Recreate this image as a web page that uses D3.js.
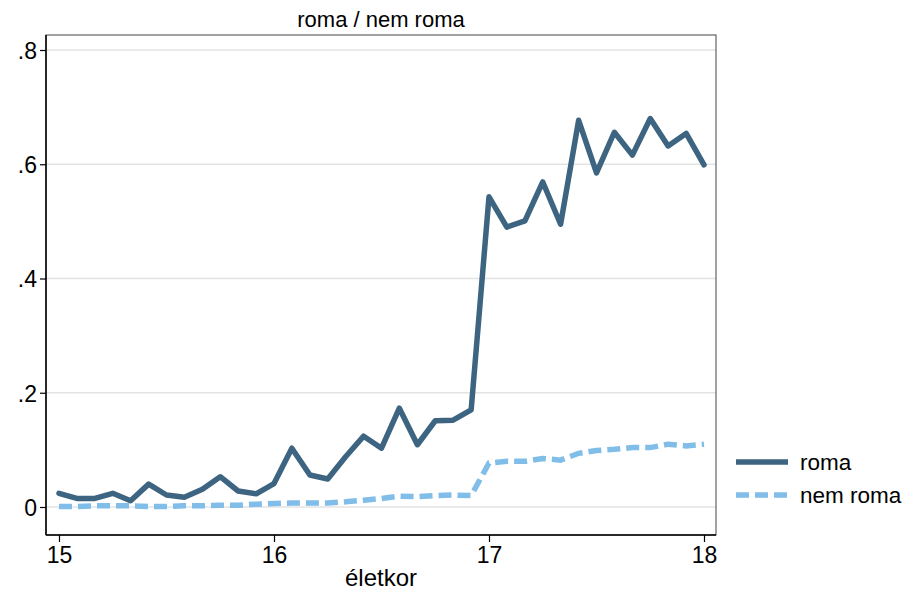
<!DOCTYPE html>
<html><head><meta charset="utf-8">
<script src="https://cdn.jsdelivr.net/npm/d3@7"></script>
<style>body{margin:0;background:#fff}svg{display:block;font-family:"Liberation Sans",Arial,sans-serif}</style>
</head><body><svg id="c" width="908" height="593"></svg>
<script>
const ages = [15,15.083,15.167,15.25,15.333,15.417,15.5,15.583,15.667,15.75,15.833,15.917,
  16,16.083,16.167,16.25,16.333,16.417,16.5,16.583,16.667,16.75,16.833,16.917,
  17,17.083,17.167,17.25,17.333,17.417,17.5,17.583,17.667,17.75,17.833,17.917,18];
const roma = [0.024,0.015,0.015,0.024,0.011,0.040,0.021,0.017,0.031,0.053,0.028,0.023,
  0.041,0.103,0.056,0.049,0.088,0.124,0.103,0.173,0.109,0.151,0.152,0.170,
  0.543,0.490,0.501,0.569,0.495,0.677,0.585,0.656,0.616,0.680,0.632,0.654,0.599];
const nemRoma = [0.001,0.001,0.002,0.002,0.002,0.001,0.001,0.002,0.002,0.003,0.003,0.005,
  0.006,0.007,0.007,0.007,0.009,0.012,0.015,0.019,0.018,0.020,0.021,0.020,
  0.077,0.080,0.080,0.085,0.082,0.094,0.099,0.101,0.104,0.104,0.110,0.107,0.110];
const xTicks = [15,16,17,18];
const yTicks = [0,0.2,0.4,0.6,0.8];
const yTickLabels = ["0",".2",".4",".6",".8"];
const seriesNames = ["roma","nem roma"];

const svg = d3.select("#c");
const L=46,R=716,T=35,B=535;
const x = d3.scaleLinear().domain([15,18]).range([59,704]);
const y = d3.scaleLinear().domain([0,0.8]).range([507,50]);

// grid
svg.append("g").selectAll("line").data(yTicks).join("line")
  .attr("x1",L).attr("x2",R).attr("y1",d=>y(d)).attr("y2",d=>y(d))
  .attr("stroke","#e3e3e3").attr("stroke-width",1.5);

// frame
svg.append("rect").attr("x",L).attr("y",T).attr("width",R-L).attr("height",B-T)
  .attr("fill","none").attr("stroke","#444").attr("stroke-width",1);

const line = d3.line().x((d,i)=>x(ages[i])).y(d=>y(d));
svg.append("path").datum(nemRoma).attr("d",line).attr("fill","none")
  .attr("stroke","#80bde8").attr("stroke-width",5.5).attr("stroke-dasharray","13,6");
svg.append("path").datum(roma).attr("d",line).attr("fill","none")
  .attr("stroke","#3d6480").attr("stroke-width",5.5).attr("stroke-linejoin","round").attr("stroke-linecap","round");

// axes
const ax = svg.append("g").attr("transform",`translate(0,${B})`)
  .call(d3.axisBottom(x).tickValues(xTicks).tickFormat(d3.format("d")).tickSize(7).tickPadding(4));
const ay = svg.append("g").attr("transform",`translate(${L},0)`)
  .call(d3.axisLeft(y).tickValues(yTicks).tickFormat((d,i)=>yTickLabels[i]).tickSize(6).tickPadding(3));
[ax,ay].forEach(a=>{
  a.select(".domain").remove();
  a.selectAll(".tick line").attr("stroke","#000").attr("stroke-width",1.2);
  a.selectAll("text").attr("font-size",23).attr("fill","#000").attr("font-family","Liberation Sans, Arial, sans-serif");
});
ax.selectAll("text").attr("dy","0.75em");
ay.selectAll("text").attr("dy","0.36em");
svg.append("line").attr("x1",L).attr("x2",L).attr("y1",T).attr("y2",B).attr("stroke","#000").attr("stroke-width",1.5);
svg.append("line").attr("x1",L).attr("x2",R).attr("y1",B).attr("y2",B).attr("stroke","#000").attr("stroke-width",1.5);

// title & axis title
svg.append("text").attr("x",381).attr("y",27).attr("text-anchor","middle")
  .attr("font-size",22).text("roma / nem roma");
svg.append("text").attr("x",381).attr("y",586).attr("text-anchor","middle")
  .attr("font-size",24).text("életkor");

// legend
const leg = svg.append("g");
const legColors = ["#3d6480","#80bde8"], legDash=[null,"13,6"], legY=[462,495];
seriesNames.forEach((n,i)=>{
  leg.append("line").attr("x1",736).attr("x2",788).attr("y1",legY[i]).attr("y2",legY[i])
    .attr("stroke",legColors[i]).attr("stroke-width",5.5).attr("stroke-dasharray",legDash[i]);
  leg.append("text").attr("x",800).attr("y",legY[i]).attr("dy","0.35em").attr("font-size",22.5).text(n);
});
</script></body></html>
